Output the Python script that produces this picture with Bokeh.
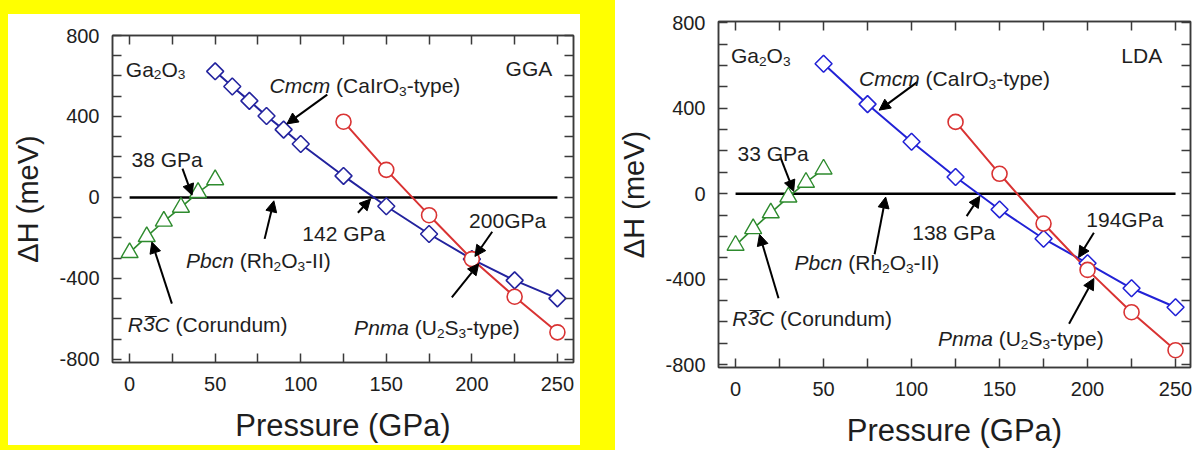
from bokeh.plotting import figure
from bokeh.models import (Label, Arrow, NormalHead, LinearAxis, FixedTicker, Range1d,
                          CustomJSTickFormatter)
from bokeh.layouts import row
from bokeh.embed import file_html
from bokeh.resources import INLINE

FONT = "Liberation Sans"
TXT = "#1e1e1e"

# ---------------- data ----------------
x_major = [0, 50, 100, 150, 200, 250]
x_minor = [25, 75, 125, 175, 225]
y_major = [-800, -400, 0, 400, 800]
y_minor = [-700, -600, -500, -300, -200, -100, 100, 200, 300, 500, 600, 700]
y_major_labels = {-800: "-800", -400: "-400", 0: "0", 400: "400", 800: "800"}

zero_p = [0, 250]
zero_h = [0, 0]

# GGA panel
gga_cmcm_p = [50, 60, 70, 80, 90, 100, 125, 150, 175, 200, 225, 250]
gga_cmcm_h = [623, 548, 477, 402, 335, 264, 106, -44, -181, -305, -410, -499]
gga_pnma_p = [125, 150, 175, 200, 225, 250]
gga_pnma_h = [374, 136, -88, -305, -491, -667]
gga_r3c_p = [0, 10, 20, 30, 40, 50]
gga_r3c_h = [-273, -194, -118, -49, 24, 87]

# LDA panel
lda_cmcm_p = [50, 75, 100, 125, 150, 175, 200, 225, 250]
lda_cmcm_h = [608, 419, 243, 78, -74, -211, -326, -443, -532]
lda_pnma_p = [125, 150, 175, 200, 225, 250]
lda_pnma_h = [336, 93, -140, -357, -555, -733]
lda_r3c_p = [0, 10, 20, 30, 40, 50]
lda_r3c_h = [-242, -164, -90, -16, 53, 115]

# annotation texts: (x, y, segments, align)
gga_texts = [
    (-2.2, 634, [("Ga", "n"), ("2", "sub"), ("O", "n"), ("3", "sub")], "left"),
    (247, 637, [("GGA", "n")], "right"),
    (81.8, 551, [("Cmcm", "i"), (" (CaIrO", "n"), ("3", "sub"), ("-type)", "n")], "left"),
    (1.1, 189, [("38 GPa", "n")], "left"),
    (100.9, -178, [("142 GPa", "n")], "left"),
    (198.4, -115, [("200GPa", "n")], "left"),
    (33.0, -312, [("Pbcn", "i"), (" (Rh", "n"), ("2", "sub"), ("O", "n"), ("3", "sub"), ("-II)", "n")], "left"),
    (-1.1, -628, [("R", "i"), ("3", "ibar"), ("C", "i"), (" (Corundum)", "n")], "left"),
    (131.2, -644, [("Pnma", "i"), (" (U", "n"), ("2", "sub"), ("S", "n"), ("3", "sub"), ("-type)", "n")], "left"),
]
lda_texts = [
    (-2.6, 646, [("Ga", "n"), ("2", "sub"), ("O", "n"), ("3", "sub")], "left"),
    (242.4, 646, [("LDA", "n")], "right"),
    (70.2, 538, [("Cmcm", "i"), (" (CaIrO", "n"), ("3", "sub"), ("-type)", "n")], "left"),
    (1.1, 189, [("33 GPa", "n")], "left"),
    (100.4, -183, [("138 GPa", "n")], "left"),
    (199.3, -121, [("194GPa", "n")], "left"),
    (33.5, -322, [("Pbcn", "i"), (" (Rh", "n"), ("2", "sub"), ("O", "n"), ("3", "sub"), ("-II)", "n")], "left"),
    (-1.9, -583, [("R", "i"), ("3", "ibar"), ("C", "i"), (" (Corundum)", "n")], "left"),
    (115.0, -679, [("Pnma", "i"), (" (U", "n"), ("2", "sub"), ("S", "n"), ("3", "sub"), ("-type)", "n")], "left"),
]

# arrows: (x_tail, y_tail, x_head, y_head)
gga_arrows = [(115.5, 508, 91.9, 363), (30.9, 142, 36.5, 11), (133.4, -76, 140.8, -8),
              (78.9, -205, 84.3, -17), (24.7, -525, 13.0, -221), (211.9, -170, 201.8, -292),
              (188.3, -494, 204.0, -328)]
lda_arrows = [(103.2, 522, 81.6, 391), (25.5, 170, 33.0, 11), (131.3, -105, 138.8, -12),
              (79.0, -284, 85.3, -16), (24.4, -490, 13.6, -191), (203.6, -183, 194.9, -299),
              (189.5, -609, 203.6, -397)]

# ---------------- helpers ----------------
W = {' ': 278, '(': 333, ')': 333, '-': 333, 'A': 667, 'C': 722, 'D': 722, 'G': 778, 'H': 722,
     'I': 278, 'L': 556, 'O': 778, 'P': 667, 'R': 722, 'S': 667, 'U': 722, 'a': 556, 'b': 556,
     'c': 500, 'd': 556, 'e': 556, 'h': 556, 'l': 222, 'm': 833, 'n': 556, 'o': 556, 'p': 556,
     'r': 333, 't': 278, 'u': 556, 'y': 500}


def tw(s, size):
    return sum(W.get(c, 556) for c in s) / 1000.0 * size


def rich(p, x, y, segs, align="left", size=21):
    sub = size * 0.65
    total = sum(tw(t, sub if st == "sub" else size) for t, st in segs)
    off = -total if align == "right" else 0.0
    for t, st in segs:
        fs = sub if st == "sub" else size
        yo = -size * 0.28 if st == "sub" else 0
        style = "italic" if st in ("i", "ibar") else "normal"
        lead = len(t) - len(t.lstrip(" "))
        off += tw(" " * lead, fs)
        core = t.strip(" ")
        p.add_layout(Label(x=x, y=y, x_offset=off, y_offset=yo, text=core,
                           text_font=FONT, text_font_size=f"{fs:.1f}px",
                           text_font_style=style, text_color=TXT,
                           text_baseline="alphabetic", text_align="left"))
        if st == "ibar":
            p.add_layout(Label(x=x, y=y, x_offset=off + 2, y_offset=1, text="\u00af",
                               text_font=FONT, text_font_size=f"{fs:.1f}px",
                               text_color=TXT, text_baseline="alphabetic",
                               text_align="left"))
        off += tw(t.lstrip(" "), fs)


def style_axis(ax, labels=True):
    ax.axis_line_color = "#3a3a3a"
    ax.axis_line_width = 1.5
    ax.major_tick_line_color = "#3a3a3a"
    ax.minor_tick_line_color = "#3a3a3a"
    ax.major_tick_line_width = 1.5
    ax.minor_tick_line_width = 1.5
    ax.major_tick_in = 9
    ax.major_tick_out = 0
    ax.minor_tick_in = 9
    ax.minor_tick_out = 0
    if labels:
        ax.major_label_text_font = FONT
        ax.major_label_text_font_size = "20px"
        ax.major_label_text_color = TXT
    else:
        ax.major_label_text_font_size = "0px"
        ax.major_label_standoff = 0


def make_fig(width, height, xr, yr, mb):
    p = figure(width=width, height=height, x_range=Range1d(*xr), y_range=Range1d(*yr),
               output_backend="svg", toolbar_location=None,
               min_border_left=mb[0], min_border_right=mb[1],
               min_border_top=mb[2], min_border_bottom=mb[3])
    p.grid.visible = False
    p.outline_line_color = "#3a3a3a"
    p.outline_line_width = 1.5
    p.background_fill_color = "white"
    p.border_fill_color = "white"

    xt = FixedTicker(ticks=x_major, minor_ticks=x_minor)
    yt = FixedTicker(ticks=y_major, minor_ticks=y_minor)
    xa = p.below[0]
    ya = p.left[0]
    xa.ticker = xt
    ya.ticker = yt
    ya.major_label_overrides = dict(y_major_labels)
    style_axis(xa)
    style_axis(ya)
    xa.major_label_standoff = 14
    ya.major_label_standoff = 13
    xa.axis_label = "Pressure (GPa)"
    ya.axis_label = "\u0394H (meV)"
    for ax, fs in ((xa, "31px"), (ya, "29px")):
        ax.axis_label_text_font = FONT
        ax.axis_label_text_font_size = fs
        ax.axis_label_text_font_style = "normal"
        ax.axis_label_text_color = TXT
    xa.axis_label_standoff = 14
    ya.axis_label_standoff = 12

    top = LinearAxis(ticker=xt, formatter=CustomJSTickFormatter(code="return ''"))
    right = LinearAxis(ticker=yt, formatter=CustomJSTickFormatter(code="return ''"))
    style_axis(top, labels=False)
    style_axis(right, labels=False)
    p.add_layout(top, "above")
    p.add_layout(right, "right")
    return p


def draw(p, cmcm, pnma, r3c, blue, texts, arrows):
    p.line(zero_p, zero_h, line_color="black", line_width=2.5)
    p.line(cmcm[0], cmcm[1], line_color=blue, line_width=2)
    p.line(pnma[0], pnma[1], line_color="#d93333", line_width=2)
    p.line(r3c[0], r3c[1], line_color="#2e8b2e", line_width=1.6)
    p.scatter(cmcm[0], cmcm[1], marker="square", angle=0.785398, size=12,
              line_color=blue, fill_color="white", line_width=1.6)
    p.scatter(pnma[0], pnma[1], marker="circle", size=15,
              line_color="#d93333", fill_color="white", line_width=1.6)
    p.scatter(r3c[0], r3c[1], marker="triangle", size=17,
              line_color="#2e8b2e", fill_color="white", line_width=1.4)
    for (x0, y0, x1, y1) in arrows:
        p.add_layout(Arrow(x_start=x0, y_start=y0, x_end=x1, y_end=y1,
                           line_color="black", line_width=2,
                           end=NormalHead(size=11, fill_color="black", line_color="black",
                                          line_width=1)))
    for (x, y, segs, align) in texts:
        rich(p, x, y, segs, align)


# left panel: placed at (8, 14) inside a yellow surround
p1 = make_fig(572, 431, (-10, 259.4), (-816, 800), (104, 7, 14, 78))
draw(p1, (gga_cmcm_p, gga_cmcm_h), (gga_pnma_p, gga_pnma_h), (gga_r3c_p, gga_r3c_h),
     "#23239e", gga_texts, gga_arrows)
p1.margin = (14, 35, 5, 8)
Y = "#ffff00"
p1.styles = {"box-shadow": f"0 -6px 0 8px {Y}, 0 0 0 8px {Y}, 27px 0 0 8px {Y}, 27px -6px 0 8px {Y}"}

# right panel
p2 = make_fig(580, 450, (-9.7, 258.5), (-814, 806), (103, 5, 21, 81))
draw(p2, (lda_cmcm_p, lda_cmcm_h), (lda_pnma_p, lda_pnma_h), (lda_r3c_p, lda_r3c_h),
     "#2222d6", lda_texts, lda_arrows)

layout = row(p1, p2)
open("out.html", "w").write(file_html(layout, INLINE))
